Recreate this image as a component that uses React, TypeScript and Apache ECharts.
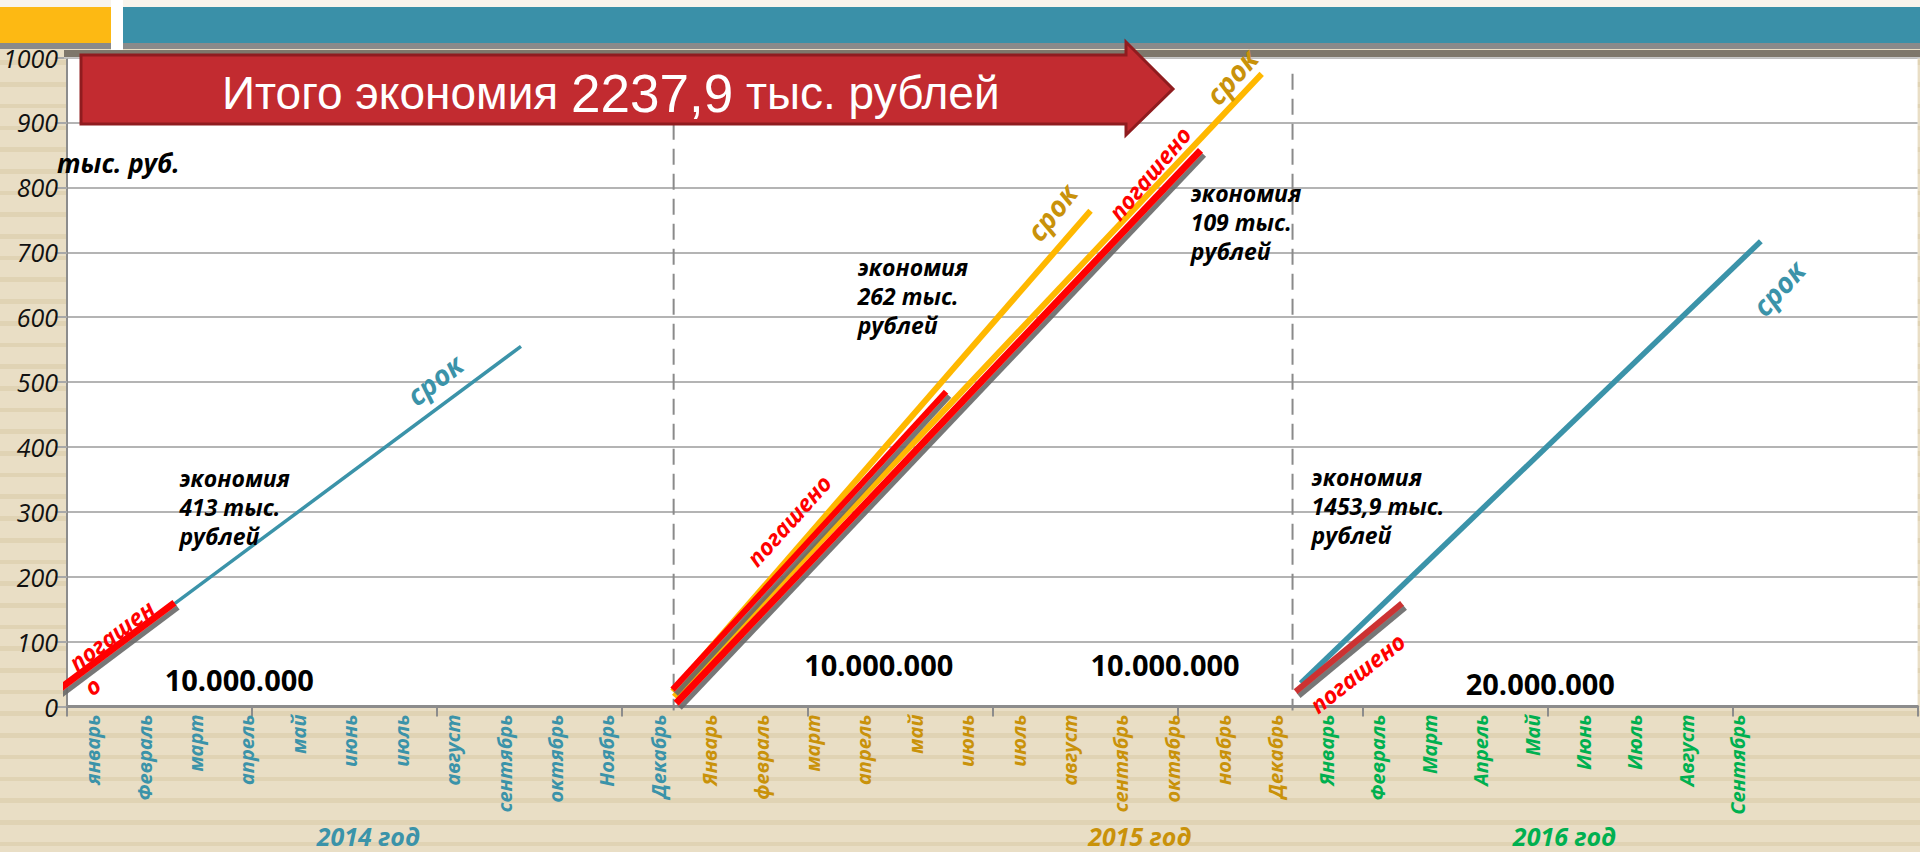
import React, { useEffect, useRef } from "react";
import * as echarts from "echarts";

// ---------- data ----------
const months2014 = ["январь", "Февраль", "март", "апрель", "май", "июнь", "июль", "август", "сентябрь", "октябрь", "Ноябрь", "Декабрь"];
const months2015 = ["Январь", "февраль", "март", "апрель", "май", "июнь", "июль", "август", "сентябрь", "октябрь", "ноябрь", "Декабрь"];
const months2016 = ["Январь", "Февраль", "Март", "Апрель", "Май", "Июнь", "Июль", "Август", "Сентябрь", "", "", ""];
const yearNames = ["2014 год", "2015 год", "2016 год"];
const yearCenters = [5.86, 20.87, 29.13]; // in months

// lines: [month, тыс. руб.]
const term2014: number[][] = [[-0.245, 21], [8.83, 555]];
const paid2014: number[][] = [[-0.245, 21], [2.09, 160]];
const term2015a: number[][] = [[11.78, 23], [19.91, 764]];
const paid2015a: number[][] = [[11.78, 26], [17.1, 485]];
const term2015b: number[][] = [[11.81, 15], [23.24, 975]];
const paid2015b: number[][] = [[11.85, 5], [22.05, 857]];
const term2016: number[][] = [[24.0, 36], [32.95, 717]];
const paid2016: number[][] = [[23.9, 23], [25.97, 159]];
const yearDividers = [11.8, 23.84];

// annotations (anchored in data coordinates)
const economyNotes = [
  { text: "экономия\n413 тыс.\nрублей", at: [2.185, 307] },
  { text: "экономия\n262 тыс.\nрублей", at: [15.38, 632] },
  { text: "экономия\n109 тыс.\nрублей", at: [21.86, 747] },
  { text: "экономия\n1453,9 тыс.\nрублей", at: [24.21, 309] },
];
const amountNotes = [
  { text: "10.000.000", at: [3.35, 41] },
  { text: "10.000.000", at: [15.79, 64] },
  { text: "10.000.000", at: [21.36, 64] },
  { text: "20.000.000", at: [28.66, 35] },
];
const termNotes = [
  { at: [7.15, 504], rot: 38, year: 0 },
  { at: [19.15, 762], rot: 52, year: 1 },
  { at: [22.65, 971], rot: 49, year: 1 },
  { at: [33.29, 645], rot: 48, year: 0 },
];
const paidNotes = [
  { text: "погашен", at: [0.863, 110], rot: 37 },
  { text: "о", at: [0.488, 32], rot: 37 },
  { text: "погашено", at: [14.04, 287], rot: 48 },
  { text: "погашено", at: [21.06, 822], rot: 50 },
  { text: "погашено", at: [25.1, 52], rot: 38 },
];

const TEAL = "#3b93a9";
const GOLD = "#c9920a";
const GREEN = "#00b050";
const yearColors = [TEAL, GOLD, GREEN];
const ORANGE = "#ffb800";
const RED = "#ff0000";
const RED2 = "#cc3333";
const FONT = '"Open Sans", "DejaVu Sans", sans-serif';

export default function App() {
  const ref = useRef<HTMLDivElement>(null);

  useEffect(() => {
    const chart = echarts.init(ref.current as HTMLDivElement, null, { renderer: "svg" });
    const allMonths = [...months2014, ...months2015, ...months2016];
    const catData = allMonths.map((m, i) => ({
      value: String(i),
      textStyle: { color: yearColors[Math.floor(i / 12)] },
    }));

    const shadow = { shadowColor: "rgba(105,105,105,0.9)", shadowBlur: 1, shadowOffsetX: 3, shadowOffsetY: 4 };
    const line = (data: number[][], color: string, width: number, withShadow: boolean) => ({
      type: "line",
      data,
      xAxisIndex: 0,
      yAxisIndex: 0,
      symbol: "none",
      showSymbol: false,
      clip: false,
      silent: true,
      lineStyle: { color, width, cap: "butt", ...(withShadow ? shadow : {}) },
      z: 3,
    });

    const dividerSeries = yearDividers.map((x) => ({
      type: "line",
      data: [[x, 975], [x, -6]],
      xAxisIndex: 0,
      yAxisIndex: 0,
      symbol: "none",
      clip: false,
      silent: true,
      lineStyle: { color: "#8a8a8a", width: 2, type: [16, 9] },
      z: 1,
    }));

    chart.setOption({
      animation: false,
      backgroundColor: "transparent",
      grid: {
        left: 64.5,
        right: 2.4,
        top: 57.6,
        bottom: 145.5,
        show: true,
        backgroundColor: "#ffffff",
        borderWidth: 0,
      },
      xAxis: [
        {
          type: "value",
          min: 0,
          max: 36,
          interval: 3.6,
          axisLine: { show: true, lineStyle: { color: "#8c8c8c", width: 3 } },
          axisTick: { show: true, length: 10, lineStyle: { color: "#8c8c8c", width: 2 } },
          axisLabel: { show: false },
          splitLine: { show: false },
        },
        {
          type: "category",
          position: "bottom",
          offset: 0,
          data: catData,
          boundaryGap: true,
          axisLine: { show: false },
          axisTick: { show: false },
          splitLine: { show: false },
          axisLabel: {
            interval: 0,
            rotate: 90,
            margin: 8,
            fontSize: 20,
            fontStyle: "italic",
            fontWeight: "bold",
            fontFamily: FONT,
            formatter: (_v: string, i: number) => allMonths[i],
          },
        },
      ],
      yAxis: {
        type: "value",
        min: 0,
        max: 1000,
        interval: 100,
        axisLine: { show: true, lineStyle: { color: "#8c8c8c", width: 2 } },
        axisTick: { show: true, length: 12, lineStyle: { color: "#a8a8a8", width: 2 } },
        axisLabel: {
          color: "#111",
          fontSize: 25,
          fontStyle: "italic",
          fontFamily: FONT,
          margin: 9,
          formatter: (v: number) => String(v),
        },
        splitLine: { show: true, lineStyle: { color: "#b4b4b4", width: 2 } },
      },
      series: [
        ...dividerSeries,
        line(term2014, TEAL, 3.5, false),
        line(paid2014, RED, 7, true),
        line(term2015a, ORANGE, 6, false),
        line(term2015b, ORANGE, 6, false),
        line(paid2015a, RED, 6, true),
        line(paid2015b, RED, 7, true),
        line(term2016, TEAL, 5.5, false),
        line(paid2016, RED2, 6, true),
      ],
    });

    const px = (p: number[]) =>
      chart.convertToPixel({ xAxisIndex: 0, yAxisIndex: 0 }, p) as number[];
    const deg = (d: number) => (d * Math.PI) / 180;

    const elements: any[] = [
      // header
      { type: "rect", shape: { x: 0, y: 0, width: 1920, height: 7 }, style: { fill: "#f8f4ec" }, z: 10 },
      { type: "rect", shape: { x: 0, y: 7, width: 111, height: 36 }, style: { fill: "#fdb913" }, z: 10 },
      { type: "rect", shape: { x: 111, y: 0, width: 12, height: 50 }, style: { fill: "#ffffff" }, z: 10 },
      { type: "rect", shape: { x: 123, y: 7, width: 1797, height: 36 }, style: { fill: "#3a90a8" }, z: 10 },
      { type: "rect", shape: { x: 0, y: 43, width: 111, height: 6 }, style: { fill: "#8a8a8a" }, z: 10 },
      { type: "rect", shape: { x: 123, y: 43, width: 1797, height: 6 }, style: { fill: "#8a8a8a" }, z: 10 },
      { type: "rect", shape: { x: 64, y: 50, width: 1856, height: 7 }, style: { fill: "#7e776b" }, z: 10 },
      { type: "rect", shape: { x: 64, y: 57, width: 1856, height: 1.5 }, style: { fill: "#c8c8c8" }, z: 10 },
      // banner arrow
      {
        type: "polygon",
        shape: {
          points: [[81, 55], [1126, 55], [1126, 42], [1173, 89], [1126, 135], [1126, 124], [81, 124]],
        },
        style: { fill: "#c22b30", stroke: "#8f1c1f", lineWidth: 3 },
        z: 12,
      },
      {
        type: "text",
        x: 222,
        y: 93,
        style: {
          text: "{a|Итого экономия }{b|2237,9}{a| тыс. рублей}",
          fill: "#ffffff",
          align: "left",
          verticalAlign: "middle",
          rich: {
            a: { fontSize: 46, fontFamily: '"Liberation Sans", Arial, sans-serif', fill: "#fff", color: "#fff" },
            b: { fontSize: 53, fontFamily: '"Liberation Sans", Arial, sans-serif', fill: "#fff", color: "#fff" },
          },
        },
        z: 13,
      },
      {
        type: "text",
        x: 57,
        y: 163,
        style: {
          text: "тыс. руб.",
          fill: "#000",
          font: `italic bold 26px ${FONT}`,
          align: "left",
          verticalAlign: "middle",
        },
        z: 20,
      },
    ];

    economyNotes.forEach((n) => {
      const [x, y] = px(n.at);
      elements.push({
        type: "text",
        x,
        y,
        style: {
          text: n.text,
          fill: "#000",
          font: `italic bold 23px ${FONT}`,
          lineHeight: 29,
          align: "left",
          verticalAlign: "middle",
        },
        z: 20,
      });
    });
    amountNotes.forEach((n) => {
      const [x, y] = px(n.at);
      elements.push({
        type: "text",
        x,
        y,
        style: { text: n.text, fill: "#000", font: `bold 29px ${FONT}`, align: "center", verticalAlign: "middle" },
        z: 20,
      });
    });
    termNotes.forEach((n) => {
      const [x, y] = px(n.at);
      elements.push({
        type: "text",
        x,
        y,
        rotation: deg(n.rot),
        style: {
          text: "срок",
          fill: yearColors[n.year],
          font: `italic bold 28px ${FONT}`,
          align: "center",
          verticalAlign: "middle",
        },
        z: 20,
      });
    });
    paidNotes.forEach((n) => {
      const [x, y] = px(n.at);
      elements.push({
        type: "text",
        x,
        y,
        rotation: deg(n.rot),
        style: {
          text: n.text,
          fill: RED,
          font: `italic bold 23px ${FONT}`,
          align: "center",
          verticalAlign: "middle",
        },
        z: 20,
      });
    });
    yearNames.forEach((name, i) => {
      const [x, y] = px([yearCenters[i], -199]);
      elements.push({
        type: "text",
        x,
        y,
        style: {
          text: name,
          fill: yearColors[i],
          font: `italic bold 25px ${FONT}`,
          align: "center",
          verticalAlign: "middle",
        },
        z: 20,
      });
    });

    chart.setOption({ graphic: { elements } });

    return () => chart.dispose();
  }, []);

  return (
    <div
      ref={ref}
      style={{
        position: "absolute",
        left: 0,
        top: 0,
        width: 1920,
        height: 852,
        background:
          "repeating-linear-gradient(180deg, #e9dec5 0px, #e9dec5 17px, #e0d3b4 17px, #e0d3b4 21.7px)",
      }}
    />
  );
}
